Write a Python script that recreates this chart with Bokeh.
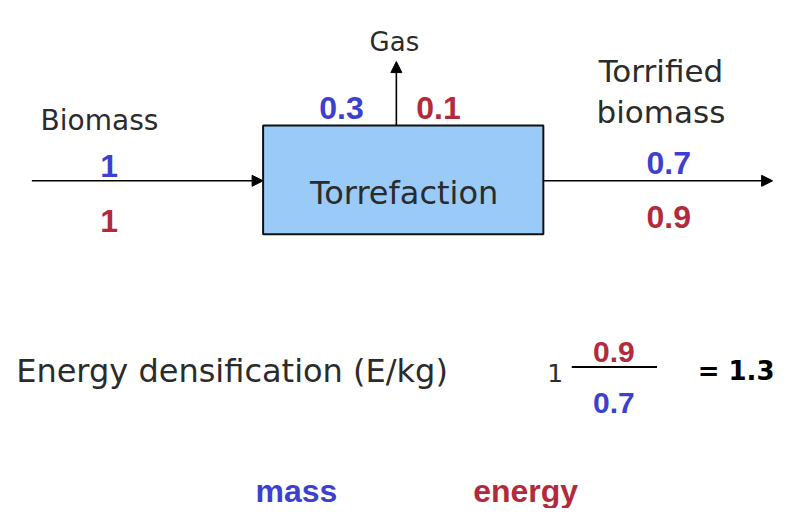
from bokeh.plotting import figure
from bokeh.models import Range1d, Arrow, NormalHead
from bokeh.core.properties import value
from bokeh.embed import file_html
from bokeh.resources import INLINE

# ---- data ----
flows = ["Biomass", "Gas", "Torrified\nbiomass"]
mass = [1, 0.3, 0.7]          # blue values (input, gas, torrified)
energy = [1, 0.1, 0.9]        # red values
process = "Torrefaction"
legend_labels = ["mass", "energy"]
ratio_label = "Energy densification (E/kg)"
densification = energy[2] / mass[2]

BLUE = "#3c3fcf"
RED = "#b32a3c"
INK = "#2b2b2b"

fmt = lambda v: f"{v:g}"

# diagram coordinates follow the reference picture (794 x 524, y downwards)
p = figure(width=778, height=508, output_backend="svg", toolbar_location=None,
           x_range=Range1d(0, 794), y_range=Range1d(524, 0),
           x_axis_location=None, y_axis_location=None, min_border=0,
           outline_line_color=None, background_fill_color="white",
           border_fill_color="white")
p.grid.visible = False

SANS = value("DejaVu Sans")
LIB = value("Liberation Sans")

# process box
p.quad(left=[268], right=[554], top=[129], bottom=[241],
       fill_color="#9acaf7", line_color="#111111", line_width=2)
p.text(x=[412], y=[199], text=[process], text_font=SANS, text_font_size="32px",
       text_color=INK, text_align="center", text_baseline="alphabetic")

# arrows
def arrow(x0, y0, x1, y1):
    p.add_layout(Arrow(x_start=x0, y_start=y0, x_end=x1, y_end=y1,
                       line_color="black", line_width=1.6,
                       end=NormalHead(size=11, fill_color="black", line_color="black",
                                      line_width=1)))

arrow(32, 186, 268, 186)
arrow(554, 186, 788, 186)
arrow(404, 129, 404, 63)

# flow labels
p.text(x=[101], y=[124], text=[flows[0]], text_font=SANS, text_font_size="28px",
       text_color=INK, text_align="center", text_baseline="alphabetic")
p.text(x=[402], y=[43], text=[flows[1]], text_font=SANS, text_font_size="26px",
       text_color=INK, text_align="center", text_baseline="alphabetic")
p.text(x=[674, 674], y=[73, 115], text=flows[2].split("\n"), text_font=SANS,
       text_font_size="31px", text_color=INK, text_align="center",
       text_baseline="alphabetic")

# values
num = dict(text_font=LIB, text_font_size="32px", text_font_style="bold",
           text_align="center", text_baseline="alphabetic")
p.text(x=[111, 348, 682], y=[171, 111, 168], text=[fmt(v) for v in mass],
       text_color=BLUE, **num)
p.text(x=[111, 447, 682], y=[227, 111, 223], text=[fmt(v) for v in energy],
       text_color=RED, **num)

# densification line
p.text(x=[16], y=[382], text=[ratio_label], text_font=SANS, text_font_size="32px",
       text_color=INK, text_align="left", text_baseline="alphabetic")
p.text(x=[566], y=[384], text=["1"], text_font=SANS, text_font_size="25px",
       text_color=INK, text_align="center", text_baseline="alphabetic")
p.segment(x0=[583], y0=[378], x1=[670], y1=[378], line_color="black", line_width=2)
p.text(x=[626], y=[363], text=[fmt(energy[2])], text_color=RED,
       **dict(num, text_font_size="30px"))
p.text(x=[626], y=[415], text=[fmt(mass[2])], text_color=BLUE,
       **dict(num, text_font_size="30px"))
p.text(x=[790], y=[382], text=[f"= {densification:.1f}"], text_font=SANS,
       text_font_size="26px", text_font_style="bold", text_color="black",
       text_align="right", text_baseline="alphabetic")

# legend words
p.text(x=[302, 536], y=[506, 506], text=legend_labels, text_color=[BLUE, RED],
       text_font=LIB, text_font_size="32px", text_font_style="bold",
       text_align="center", text_baseline="alphabetic")

open("out.html", "w").write(file_html(p, INLINE))
